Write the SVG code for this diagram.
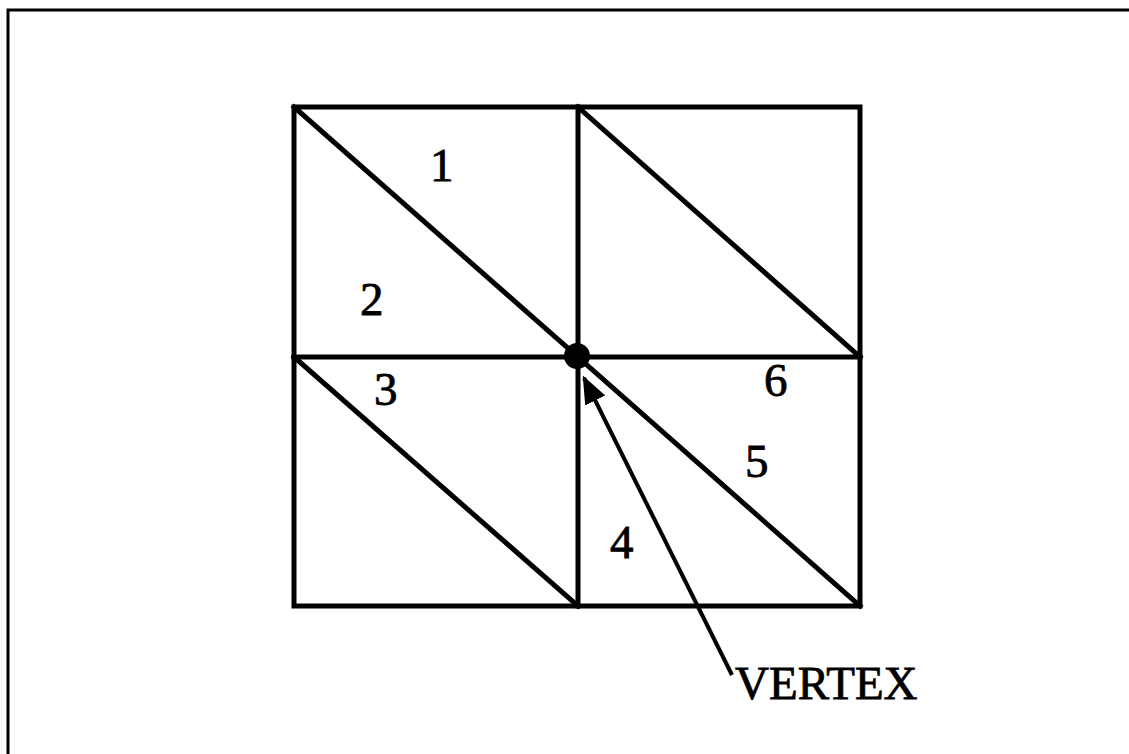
<svg xmlns="http://www.w3.org/2000/svg" width="1129" height="754" viewBox="0 0 1129 754">
<defs>
<style>
.ln{stroke:#000;stroke-width:5;fill:none;stroke-linecap:square}
.lbl{font-family:"Liberation Serif","Times New Roman",serif;font-size:47px;fill:#000;stroke:#000;stroke-width:0.8}
</style>
<marker id="ah" viewBox="0 0 10 10" refX="9" refY="5" markerWidth="7" markerHeight="7" markerUnits="strokeWidth" orient="auto">
<path d="M0,1 L10,5 L0,9 Z" fill="#000"/>
</marker>
</defs>
<rect width="1129" height="754" fill="#fff"/>
<rect id="frame" x="8" y="10" width="1200" height="1000" fill="none" stroke="#000" stroke-width="3"/>
<g id="grid">
<rect class="ln" x="294" y="107" width="566" height="499"/>
<line class="ln" x1="578" y1="107" x2="578" y2="606"/>
<line class="ln" x1="294" y1="357" x2="860" y2="357"/>
<line class="ln" x1="294" y1="107" x2="578" y2="357"/>
<line class="ln" x1="578" y1="107" x2="860" y2="357"/>
<line class="ln" x1="294" y1="357" x2="578" y2="606"/>
<line class="ln" x1="578" y1="357" x2="860" y2="606"/>
</g>
<g id="vertex-dot"><circle cx="577" cy="356" r="13" fill="#000"/></g>
<g id="labels">
<text class="lbl" x="430" y="181">1</text>
<text class="lbl" x="360" y="315">2</text>
<text class="lbl" x="374" y="405">3</text>
<text class="lbl" x="610" y="558">4</text>
<text class="lbl" x="745" y="477">5</text>
<text class="lbl" x="764" y="396">6</text>
</g>
<g id="connectors">
<line x1="732" y1="675" x2="584" y2="378" stroke="#000" stroke-width="4" marker-end="url(#ah)"/>
</g>
<g id="vertex-label"><text class="lbl" x="735" y="699">VERTEX</text></g>
</svg>
